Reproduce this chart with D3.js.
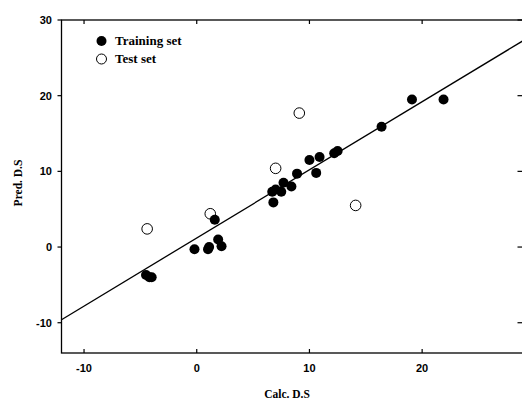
<!DOCTYPE html>
<html lang="en">
<head>
<meta charset="utf-8">
<title>Pred. vs Calc. D.S</title>
<script src="https://d3js.org/d3.v7.min.js"></script>
<style>
  body { margin: 0; background: #fff; }
  svg { display: block; }
  .tick-label { font-family: "Liberation Sans", Arial, sans-serif; font-size: 11px; font-weight: bold; }
  .title { font-family: "Liberation Serif", "Times New Roman", serif; font-weight: bold; }
</style>
</head>
<body>
<div id="chart"></div>
<script>
// training set (filled circles): calculated vs predicted D.S
const trainCalc = [-4.5, -4.2, -4.0, -0.2, 1.0, 1.1, 1.9, 2.2, 1.6, 6.8, 6.7, 7.0, 7.5, 7.7, 8.4, 8.9, 10.0, 10.9, 10.6, 12.2, 12.5, 16.4, 19.1, 21.9];
const trainPred = [-3.7, -4.0, -4.0, -0.3, -0.3, 0.0, 1.0, 0.1, 3.6, 5.9, 7.3, 7.6, 7.3, 8.5, 8.0, 9.7, 11.5, 11.9, 9.8, 12.4, 12.7, 15.9, 19.5, 19.5];

// test set (open circles)
const testCalc = [-4.4, 1.2, 7.0, 9.1, 14.1];
const testPred = [2.4, 4.4, 10.4, 17.7, 5.5];

// fitted line pred = slope * calc + intercept
const fitSlope = 0.9;
const fitIntercept = 1.2;

const xTicks = [-10, 0, 10, 20];
const yTicks = [-10, 0, 10, 20, 30];

const width = 522, height = 402;
// right edge of the frame sits just past the picture, only its ticks show
const plotL = 61.5, plotR = 523, plotT = 20, plotB = 353;

const svg = d3.select("#chart").append("svg")
  .attr("width", width)
  .attr("height", height);

const x = d3.scaleLinear().domain([-12, 28.95]).range([plotL, plotR]);
const y = d3.scaleLinear().domain([-14, 30]).range([plotB, plotT]);

// frame
svg.append("rect")
  .attr("x", plotL).attr("y", plotT)
  .attr("width", plotR - plotL).attr("height", plotB - plotT)
  .attr("fill", "none").attr("stroke", "#000").attr("stroke-width", 1.3);

// ticks: bottom and top inward, left outward, right inward
const tickLen = 4;
svg.append("g").selectAll("line").data(xTicks).enter().append("line")
  .attr("x1", d => x(d)).attr("x2", d => x(d))
  .attr("y1", plotB).attr("y2", plotB - tickLen)
  .attr("stroke", "#000").attr("stroke-width", 1.2);
svg.append("g").selectAll("line").data(xTicks).enter().append("line")
  .attr("x1", d => x(d)).attr("x2", d => x(d))
  .attr("y1", plotT).attr("y2", plotT + tickLen)
  .attr("stroke", "#000").attr("stroke-width", 1.2);
svg.append("g").selectAll("line").data(yTicks).enter().append("line")
  .attr("x1", plotL).attr("x2", plotL - tickLen)
  .attr("y1", d => y(d)).attr("y2", d => y(d))
  .attr("stroke", "#000").attr("stroke-width", 1.2);
svg.append("g").selectAll("line").data(yTicks).enter().append("line")
  .attr("x1", plotR).attr("x2", plotR - 1.5 - tickLen)
  .attr("y1", d => y(d)).attr("y2", d => y(d))
  .attr("stroke", "#000").attr("stroke-width", 1.2);

// tick labels
svg.append("g").selectAll("text").data(xTicks).enter().append("text")
  .attr("class", "tick-label")
  .attr("x", d => x(d)).attr("y", 372)
  .attr("text-anchor", "middle")
  .text(d => d);
svg.append("g").selectAll("text").data(yTicks).enter().append("text")
  .attr("class", "tick-label")
  .attr("x", 52).attr("y", d => y(d))
  .attr("dy", "0.36em")
  .attr("text-anchor", "end")
  .text(d => d);

// axis titles
svg.append("text")
  .attr("class", "title")
  .attr("x", 287).attr("y", 398)
  .attr("text-anchor", "middle")
  .style("font-size", "11.5px")
  .text("Calc. D.S");
svg.append("text")
  .attr("class", "title")
  .attr("transform", "translate(22,183) rotate(-90)")
  .attr("text-anchor", "middle")
  .style("font-size", "11.5px")
  .text("Pred. D.S");

// regression line, clipped to the frame
svg.append("clipPath").attr("id", "plot-clip")
  .append("rect").attr("x", plotL).attr("y", plotT)
  .attr("width", plotR - plotL).attr("height", plotB - plotT);
const xd = x.domain();
svg.append("line")
  .attr("clip-path", "url(#plot-clip)")
  .attr("x1", x(xd[0])).attr("y1", y(fitSlope * xd[0] + fitIntercept))
  .attr("x2", x(xd[1])).attr("y2", y(fitSlope * xd[1] + fitIntercept))
  .attr("stroke", "#000").attr("stroke-width", 1.3);

// points
svg.append("g").selectAll("circle").data(testCalc).enter().append("circle")
  .attr("cx", d => x(d))
  .attr("cy", (d, i) => y(testPred[i]))
  .attr("r", 5.3)
  .attr("fill", "#fff").attr("stroke", "#000").attr("stroke-width", 1);
svg.append("g").selectAll("circle").data(trainCalc).enter().append("circle")
  .attr("cx", d => x(d))
  .attr("cy", (d, i) => y(trainPred[i]))
  .attr("r", 5)
  .attr("fill", "#000");

// legend
const legend = svg.append("g");
legend.append("circle").attr("cx", 101.5).attr("cy", 41).attr("r", 5).attr("fill", "#000");
legend.append("circle").attr("cx", 101.5).attr("cy", 59).attr("r", 5)
  .attr("fill", "#fff").attr("stroke", "#000").attr("stroke-width", 1);
legend.append("text").attr("class", "title").attr("x", 115).attr("y", 45)
  .style("font-size", "13px").text("Training set");
legend.append("text").attr("class", "title").attr("x", 115).attr("y", 63)
  .style("font-size", "13px").text("Test set");
</script>
</body>
</html>
